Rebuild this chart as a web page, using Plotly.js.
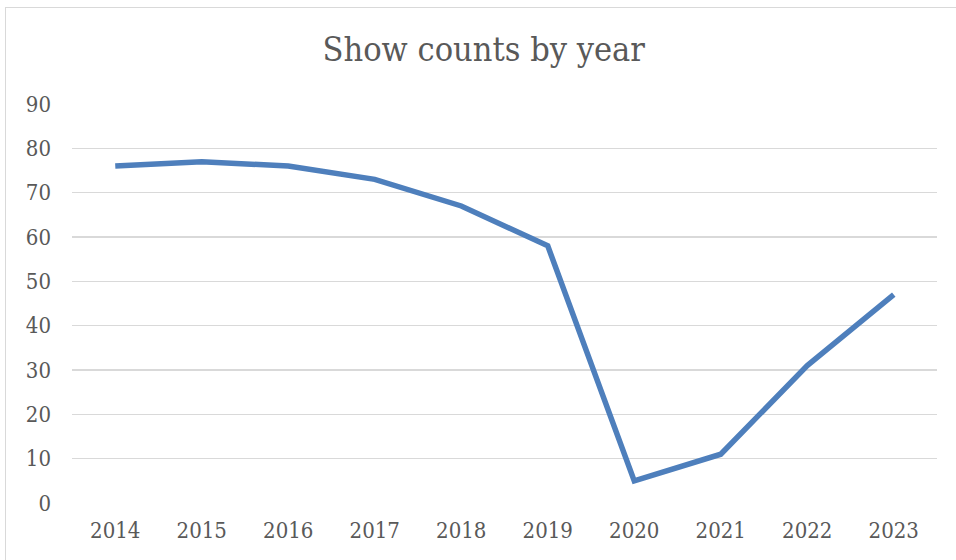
<!DOCTYPE html>
<html>
<head>
<meta charset="utf-8">
<script src="https://cdn.plot.ly/plotly-3.0.1.min.js"></script>
<style>
html, body { margin:0; padding:0; background:#fff; }
#wrap { position:relative; width:956px; height:560px; overflow:hidden; }
#chart { position:absolute; left:0; top:0; width:956px; height:560px; }
#frame { position:absolute; left:5px; top:7px; width:980px; height:600px; border:1.5px solid #d9d9d9; pointer-events:none; box-sizing:border-box; }
</style>
</head>
<body>
<div id="wrap">
<div id="chart"></div>
<div id="frame"></div>
</div>
<script>
const years = ['2014','2015','2016','2017','2018','2019','2020','2021','2022','2023'];
const showCounts = [76, 77, 76, 73, 67, 58, 5, 11, 31, 47];
const yTicks = [0,10,20,30,40,50,60,70,80,90];
const chartTitle = 'Show counts by year';

const fontFam = '"DejaVu Serif Condensed", "DejaVu Serif", "Liberation Serif", serif';
const textColor = '#595959';

const trace = {
  x: years,
  y: showCounts,
  type: 'scatter',
  mode: 'lines',
  line: { color: '#4e7fbc', width: 5.5 },
  hoverinfo: 'x+y'
};

const layout = {
  width: 956,
  height: 560,
  paper_bgcolor: 'rgba(0,0,0,0)',
  plot_bgcolor: 'rgba(0,0,0,0)',
  margin: { l: 72, r: 19, t: 104, b: 57 },
  showlegend: false,
  title: {
    text: chartTitle,
    font: { family: fontFam, size: 34, color: textColor },
    xref: 'container', x: 0.506, xanchor: 'center',
    yref: 'container', y: 1 - 49/560, yanchor: 'middle'
  },
  xaxis: {
    type: 'category',
    range: [-0.5, 9.5],
    showgrid: false,
    zeroline: false,
    showline: false,
    ticks: '',
    ticklabelstandoff: 12,
    tickfont: { family: fontFam, size: 22, color: textColor },
    fixedrange: true
  },
  yaxis: {
    range: [0, 90],
    tickvals: yTicks,
    ticktext: yTicks.map(String),
    showgrid: true,
    gridcolor: '#d9d9d9',
    gridwidth: 1.5,
    zeroline: false,
    showline: false,
    ticks: '',
    ticklabelstandoff: 20,
    tickfont: { family: fontFam, size: 22, color: textColor },
    fixedrange: true
  }
};

Plotly.newPlot('chart', [trace], layout, { displayModeBar: false, staticPlot: true });
</script>
</body>
</html>
